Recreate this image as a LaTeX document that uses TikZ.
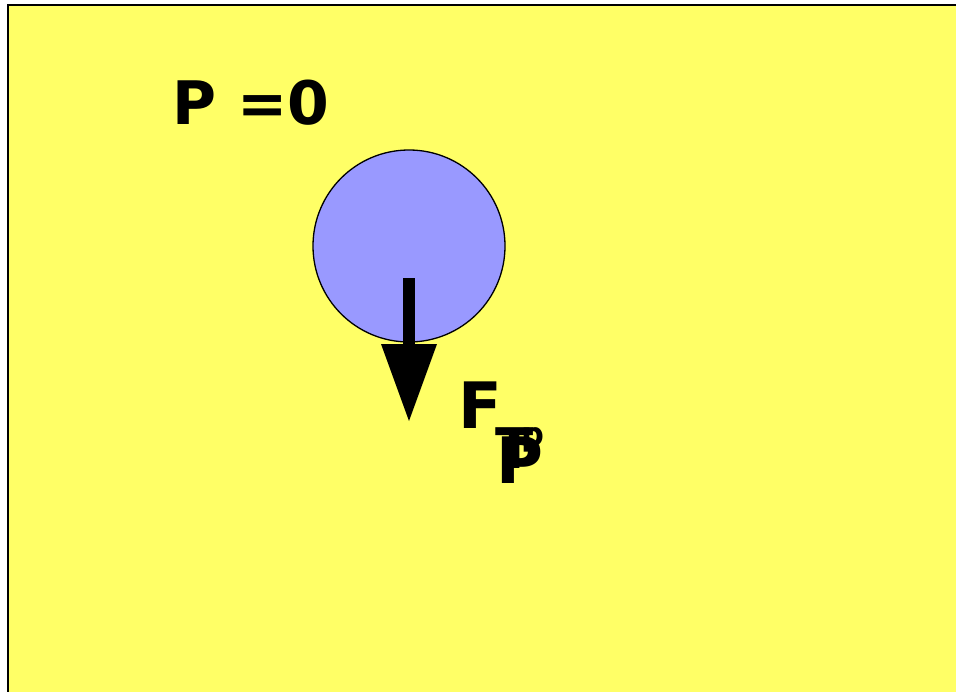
\documentclass[tikz,border=0pt]{standalone}
\usepackage{fontspec}
\setmainfont{DejaVu Sans}
\definecolor{bgy}{HTML}{FFFF66}
\definecolor{ballc}{HTML}{9999FF}
\begin{document}
\begin{tikzpicture}[x=1pt,y=-1pt,
  lbl/.style={inner sep=0pt,anchor=base west,font=\bfseries}]
\useasboundingbox (0,0) rectangle (956,691);
\fill[bgy] (8,5) rectangle (960,695);
\draw[line width=2pt] (8,695) -- (8,5) -- (960,5);
\node[circle,draw,line width=1.3pt,fill=ballc,minimum size=192pt,inner sep=0pt] (ball) at (409,246) {};
\coordinate (s0) at (409,278);
\coordinate (s1) at (409,346);
\draw[line width=12pt] (s0) -- (s1);
\fill (381,344) -- (437,344) -- (409,421) -- cycle;
\node[lbl,font=\bfseries\fontsize{60}{60}\selectfont] (p0) at (172,124) {P =0};
\node[lbl,font=\bfseries\fontsize{64}{64}\selectfont] (f) at (458,428) {F};
\node[lbl,font=\bfseries\fontsize{56}{56}\selectfont] (t) at (495,468) {T};
\node[lbl,font=\bfseries\fontsize{64}{64}\selectfont] (p) at (496,483) {P};
\node[lbl,font=\bfseries\fontsize{32}{32}\selectfont] (pp) at (521,445) {p};
\end{tikzpicture}
\end{document}
